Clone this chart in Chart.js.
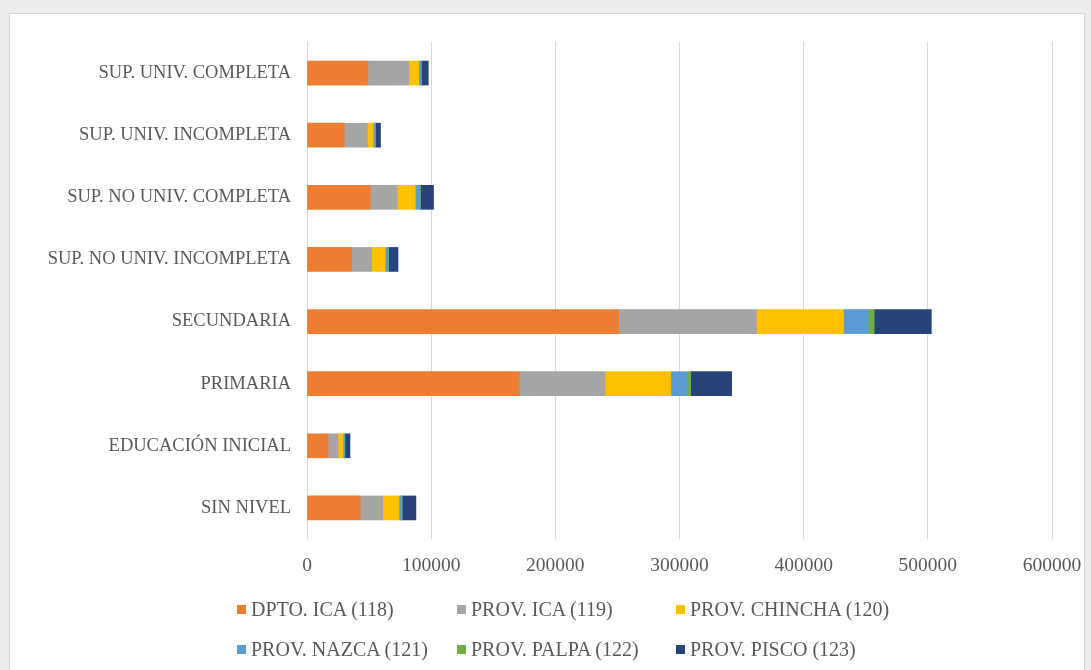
<!DOCTYPE html>
<html>
<head>
<meta charset="utf-8">
<script src="https://cdn.jsdelivr.net/npm/chart.js@4"></script>
<style>
  html, body { margin: 0; padding: 0; }
  body { width: 1091px; height: 670px; background: #ececec; position: relative; overflow: hidden; }
  #frame { position: absolute; left: 9px; top: 13px; width: 1074px; height: 660px; background: #fff; border: 1px solid #d4d4d4; }
  #wrap { position: absolute; left: 0; top: 0; width: 1091px; height: 670px; }
  #legend { position: absolute; left: 237px; top: 597px; display: grid; grid-template-columns: 220px 219px 240px; row-gap: 16px;
            font-family: "Liberation Serif", serif; font-size: 20px; line-height: 24px; color: #595959; }
  #legend span.item { display: flex; align-items: center; white-space: nowrap; }
  #legend i { display: inline-block; flex-shrink: 0; width: 9px; height: 9px; margin-right: 5px; }
</style>
</head>
<body>
<div id="frame"></div>
<div id="wrap"><canvas id="myChart" width="1091" height="670"></canvas></div>
<div id="legend"></div>
<script>
const categories = ['SUP. UNIV. COMPLETA', 'SUP. UNIV. INCOMPLETA', 'SUP. NO UNIV. COMPLETA',
  'SUP. NO UNIV. INCOMPLETA', 'SECUNDARIA', 'PRIMARIA', 'EDUCACIÓN INICIAL', 'SIN NIVEL'];

const dptoIca     = [49000, 30000, 51000, 36000, 251000, 171000, 17000, 43000];
const provIca     = [33000, 18500, 21700, 16000, 111000, 69000, 8000, 18000];
const provChincha = [8000, 4800, 14500, 11000, 70000, 53000, 4000, 13000];
const provNazca   = [1600, 1500, 3200, 2200, 20000, 13000, 1200, 2000];
const provPalpa   = [600, 400, 1000, 600, 4800, 3000, 400, 700];
const provPisco   = [5500, 4000, 10500, 7500, 46000, 33000, 4000, 11000];

const seriesNames = ['DPTO. ICA (118)', 'PROV. ICA (119)', 'PROV. CHINCHA (120)',
  'PROV. NAZCA (121)', 'PROV. PALPA (122)', 'PROV. PISCO (123)'];
const seriesColors = ['#ED7D31', '#A5A5A5', '#FFC000', '#5B9BD5', '#70AD47', '#264478'];
const seriesData = [dptoIca, provIca, provChincha, provNazca, provPalpa, provPisco];

const fam = '"Liberation Serif", serif';

const ctx = document.getElementById('myChart').getContext('2d');
const chart = new Chart(ctx, {
  type: 'bar',
  data: {
    labels: categories,
    datasets: seriesNames.map((name, i) => ({
      label: name,
      data: seriesData[i],
      backgroundColor: seriesColors[i],
      borderWidth: 0,
      barThickness: 24
    }))
  },
  options: {
    indexAxis: 'y',
    responsive: false,
    animation: false,
    layout: { padding: { top: 42, right: 39, left: 0, bottom: 0 } },
    plugins: { legend: { display: false }, tooltip: { enabled: false } },
    scales: {
      x: {
        stacked: true,
        min: 0, max: 600000,
        ticks: {
          stepSize: 100000, color: '#595959', font: { family: fam, size: 19.5 },
          padding: 15, maxRotation: 0,
          callback: v => String(v)
        },
        grid: { color: '#d9d9d9', drawTicks: false },
        border: { display: false },
        afterFit: s => { s.height = 131; s.paddingLeft = 0; s.paddingRight = 0; }
      },
      y: {
        stacked: true,
        ticks: { color: '#595959', font: { family: fam, size: 18.5 }, padding: 16 },
        grid: { display: false, drawTicks: false },
        border: { display: false },
        afterFit: s => { s.width = 307; }
      }
    }
  }
});

// legend in fixed columns, like the original
const legend = document.getElementById('legend');
chart.data.datasets.forEach(ds => {
  const item = document.createElement('span');
  item.className = 'item';
  item.innerHTML = '<i style="background:' + ds.backgroundColor + '"></i>' + ds.label;
  legend.appendChild(item);
});
</script>
</body>
</html>
